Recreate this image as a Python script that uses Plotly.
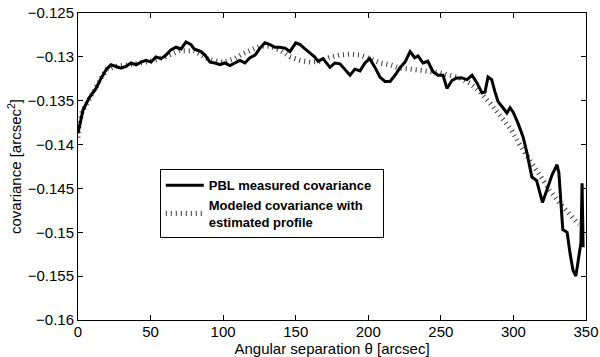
import plotly.graph_objects as go

# angular separation [arcsec] and covariance [arcsec^2]
sep_measured = [0, 1, 3.4, 7.6, 12.4, 16, 19.3, 22.7, 26, 29.6, 33, 36.5, 40, 43.4, 46.8, 50.3,
                53.7, 57.2, 60.6, 64, 67.5, 71, 74.4, 77.9, 80, 84.7, 87.5, 91, 94.4, 97.8, 101,
                104.7, 108, 111.6, 115, 118.5, 122, 125.4, 128.8, 132.3, 135.7, 139, 142.6, 146,
                150, 153, 156.4, 160, 163, 165.4, 168.8, 173.6, 177, 180.5, 184, 187.4, 190.8,
                194.3, 197.7, 201, 204.6, 208, 211.5, 215, 218.4, 222, 225.3, 228.8, 232, 234.3,
                237.7, 241, 244.6, 248, 251.5, 254.2, 257.6, 261, 264.5, 268, 271.5, 275, 278.3,
                280.4, 282.5, 285, 287.3, 289.4, 292.8, 295.5, 297.7, 299.8, 303, 306.6, 309.4,
                312.7, 316, 318, 320, 323, 326.5, 330, 331.3, 334, 337, 339, 341, 343, 344.5,
                346.5, 347.3, 348]
cov_measured = [-0.1387, -0.1378, -0.1361, -0.1347, -0.1336, -0.1324, -0.1315, -0.1309, -0.1311,
                -0.1313, -0.1311, -0.1307, -0.1309, -0.1306, -0.1304, -0.1306, -0.1300, -0.1302,
                -0.1298, -0.1292, -0.1289, -0.1291, -0.1283, -0.1286, -0.1291, -0.1294, -0.1298,
                -0.1306, -0.1307, -0.1309, -0.1307, -0.1310, -0.1307, -0.1304, -0.1307, -0.1301,
                -0.1298, -0.1290, -0.1284, -0.1286, -0.1289, -0.1289, -0.1290, -0.1294, -0.1284,
                -0.1286, -0.1291, -0.1296, -0.1300, -0.1305, -0.1302, -0.1312, -0.1307, -0.1308,
                -0.1315, -0.1321, -0.1314, -0.1316, -0.1307, -0.1302, -0.1312, -0.1323, -0.1328,
                -0.1328, -0.1321, -0.1312, -0.1306, -0.1294, -0.1301, -0.1299, -0.1307, -0.1305,
                -0.1317, -0.1321, -0.1321, -0.1336, -0.1327, -0.1324, -0.1324, -0.1326, -0.1321,
                -0.1330, -0.1341, -0.1340, -0.1323, -0.1326, -0.1340, -0.1351, -0.1358, -0.1364,
                -0.1358, -0.1363, -0.1375, -0.1391, -0.1410, -0.1437, -0.1441, -0.1452, -0.1466,
                -0.1452, -0.1435, -0.1423, -0.1432, -0.1497, -0.1500, -0.1524, -0.1543, -0.1550,
                -0.1531, -0.1512, -0.1444, -0.1517]

sep_model = [0, 1, 3, 8, 12, 16, 20, 25, 35, 50, 60, 70, 80, 90, 100, 108, 114, 120, 125, 132,
             139, 146, 153, 160, 167, 173, 180, 187, 194, 201, 208, 215, 222, 229, 236, 242.5,
             249, 256, 263, 270, 277, 284, 291, 298, 304.6, 311.4, 318, 325, 332, 339, 345]
cov_model = [-0.1392, -0.1375, -0.1362, -0.1347, -0.1336, -0.1324, -0.1314, -0.1311, -0.1309,
             -0.1305, -0.1300, -0.1293, -0.1293, -0.1303, -0.1306, -0.1302, -0.1296, -0.1291,
             -0.1288, -0.1288, -0.1292, -0.1300, -0.1304, -0.1306, -0.1305, -0.1301, -0.1298,
             -0.1297, -0.1298, -0.1302, -0.1307, -0.1309, -0.1313, -0.1314, -0.1315, -0.1317,
             -0.1318, -0.1321, -0.1324, -0.1330, -0.1340, -0.1353, -0.1368, -0.1382, -0.1401,
             -0.1418, -0.1437, -0.1452, -0.1467, -0.1480, -0.1491]

FONT = "Liberation Sans, Arial, sans-serif"

fig = go.Figure()
# model first so the measured curve sits on top of the hatches
# (trailing nbsp widens the legend box like the original's)
fig.add_trace(go.Scatter(x=sep_model, y=cov_model, mode="lines",
                         name="<b>Modeled covariance with</b>&nbsp;&nbsp;&nbsp;&nbsp;<br><b>estimated profile</b>",
                         line=dict(color="#3a3a3a", width=5, dash="1px,4px")))
fig.add_trace(go.Scatter(x=sep_measured, y=cov_measured, mode="lines",
                         name="<b>PBL measured covariance</b>",
                         line=dict(color="black", width=3)))

axis_style = dict(showline=True, linecolor="black", linewidth=1, mirror="ticks",
                  ticks="inside", ticklen=5, tickcolor="black", showgrid=False,
                  zeroline=False, automargin=False,
                  tickfont=dict(size=15, color="black", family=FONT))

fig.update_xaxes(range=[0, 350], dtick=50, ticklabelstandoff=-2,
                 title=dict(text="Angular separation θ [arcsec]", standoff=0,
                            font=dict(size=15, color="black", family=FONT)),
                 **axis_style)
fig.update_yaxes(range=[-0.16, -0.125], dtick=0.005,
                 title=dict(text="covariance [arcsec<sup>2</sup>]", standoff=2,
                            font=dict(size=15, color="black", family=FONT)),
                 **axis_style)

fig.update_layout(
    width=600, height=357,
    margin=dict(l=78, r=14, t=13, b=37),
    paper_bgcolor="white", plot_bgcolor="white",
    font=dict(family=FONT, color="black"),
    legend=dict(x=0.161, y=0.491, xanchor="left", yanchor="top",
                bgcolor="white", bordercolor="black", borderwidth=1,
                traceorder="reversed", itemwidth=38,
                font=dict(size=13, color="black", family=FONT)),
)

# page body has a default 8px margin; drop it so the figure fills the window
fig.write_html("out.html", config={"displayModeBar": False},
               post_script="document.body.style.margin='0';")
